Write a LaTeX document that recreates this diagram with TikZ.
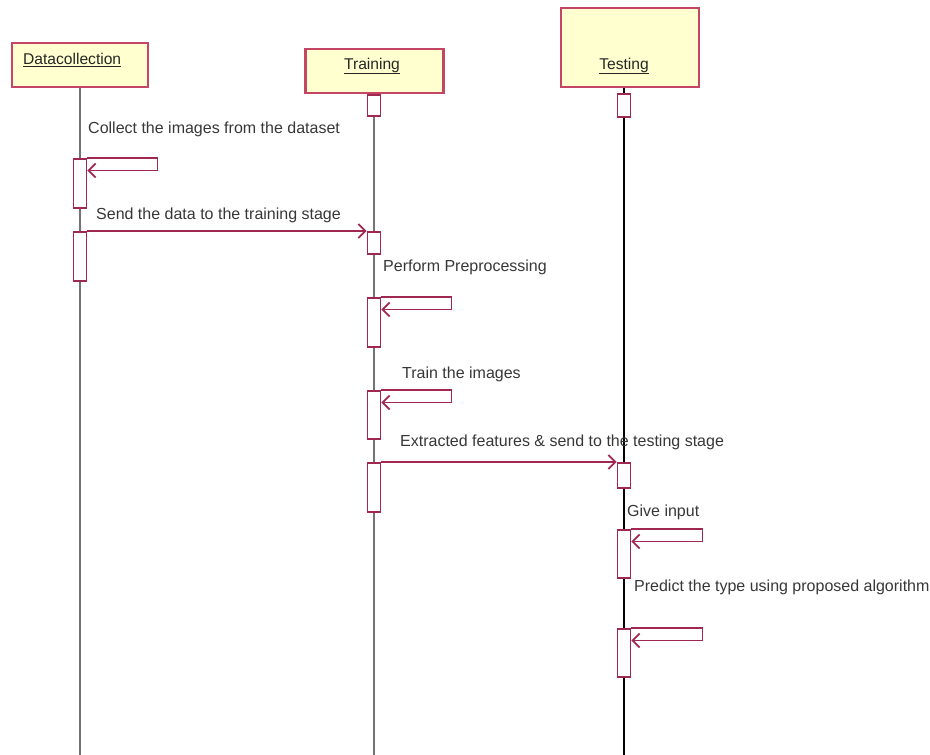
\documentclass[tikz,border=0pt]{standalone}
\usepackage{fontspec}
\setmainfont{Liberation Sans}
\usetikzlibrary{arrows.meta}
\definecolor{boxline}{RGB}{196,70,100}
\definecolor{boxfill}{RGB}{255,255,208}
\definecolor{actline}{RGB}{160,40,80}
\definecolor{lifecol}{RGB}{115,115,115}
\definecolor{txt}{RGB}{55,55,55}
\newcommand{\thickul}[1]{\underline{#1}}
\begin{document}
\begin{tikzpicture}[x=1pt,y=-1pt,
 objbox/.style={draw=boxline,fill=boxfill,line width=2.2pt,inner sep=0},
 objlabel/.style={font=\fontsize{15.6}{18}\selectfont,text=black!85,inner sep=0},
 life/.style={draw=lifecol,line width=2pt},
 lifeblack/.style={draw=black,line width=1.5pt},
 act/.style={draw=actline,fill=white,line width=1.8pt,minimum width=13pt,inner sep=0,anchor=north},
 msg/.style={draw=actline,line width=1.8pt,-{Straight Barb[length=7pt,width=14pt]}},
 lbl/.style={font=\fontsize{16}{19}\selectfont,text=txt,anchor=west,inner sep=0}]
\useasboundingbox (0,0) rectangle (930,755);
% object boxes
\node[objbox,minimum width=136pt,minimum height=44pt] (dc) at (80,65) {};
\node[objbox,minimum width=138pt,minimum height=44pt] (tr) at (374.5,71) {};
\node[objbox,minimum width=138pt,minimum height=79pt] (te) at (630,47.5) {};
\node[objlabel,anchor=west] (dcl) at (23,60) {\thickul{Datacollection}};
\node[objlabel] (trl) at (372,66) {\thickul{Training}};
\node[objlabel] (tel) at (624,66) {\thickul{Testing}};
% lifelines
\coordinate (dcend) at (80,755);
\coordinate (trend) at (374,755);
\coordinate (teend) at (624,755);
\draw[life] (dcend |- dc.south) -- (dcend);
\draw[life] (trend |- tr.south) -- (trend);
\draw[lifeblack] (teend |- te.south) -- (teend);
% activations
\node[act,minimum height=49pt] (a1) at (80,158) {};
\node[act,minimum height=49pt] (a2) at (80,231) {};
\node[act,minimum height=21pt] (t0) at (374,94) {};
\node[act,minimum height=22pt] (t1) at (374,231) {};
\node[act,minimum height=49pt] (t2) at (374,297) {};
\node[act,minimum height=48pt] (t3) at (374,390) {};
\node[act,minimum height=49pt] (t4) at (374,462) {};
\node[act,minimum height=23pt] (e0) at (624,93) {};
\node[act,minimum height=25pt] (e1) at (624,462) {};
\node[act,minimum height=48pt] (e2) at (624,529) {};
\node[act,minimum height=48pt] (e3) at (624,628) {};
% messages
\draw[msg] (a1.north east) -- ++(70,0) -- ++(0,12.5) -- ([yshift=-12.5pt]a1.north east);
\draw[msg] (a2.north east) -- (t1.north west);
\draw[msg] (t2.north east) -- ++(70,0) -- ++(0,12.5) -- ([yshift=-12.5pt]t2.north east);
\draw[msg] (t3.north east) -- ++(70,0) -- ++(0,12.5) -- ([yshift=-12.5pt]t3.north east);
\draw[msg] (t4.north east) -- (e1.north west);
\draw[msg] (e2.north east) -- ++(71,0) -- ++(0,12.5) -- ([yshift=-12.5pt]e2.north east);
\draw[msg] (e3.north east) -- ++(71,0) -- ++(0,12.5) -- ([yshift=-12.5pt]e3.north east);
% labels
\node[lbl] (m1) at (88,129) {Collect the images from the dataset};
\node[lbl] (m2) at (96,215) {Send the data to the training stage};
\node[lbl] (m3) at (383,267) {Perform Preprocessing};
\node[lbl] (m4) at (402,374) {Train the images};
\node[lbl] (m5) at (400,442) {Extracted features \& send to the testing stage};
\node[lbl] (m6) at (627,512) {Give input};
\node[lbl] (m7) at (634,587) {Predict the type using proposed algorithm};
\end{tikzpicture}
\end{document}
